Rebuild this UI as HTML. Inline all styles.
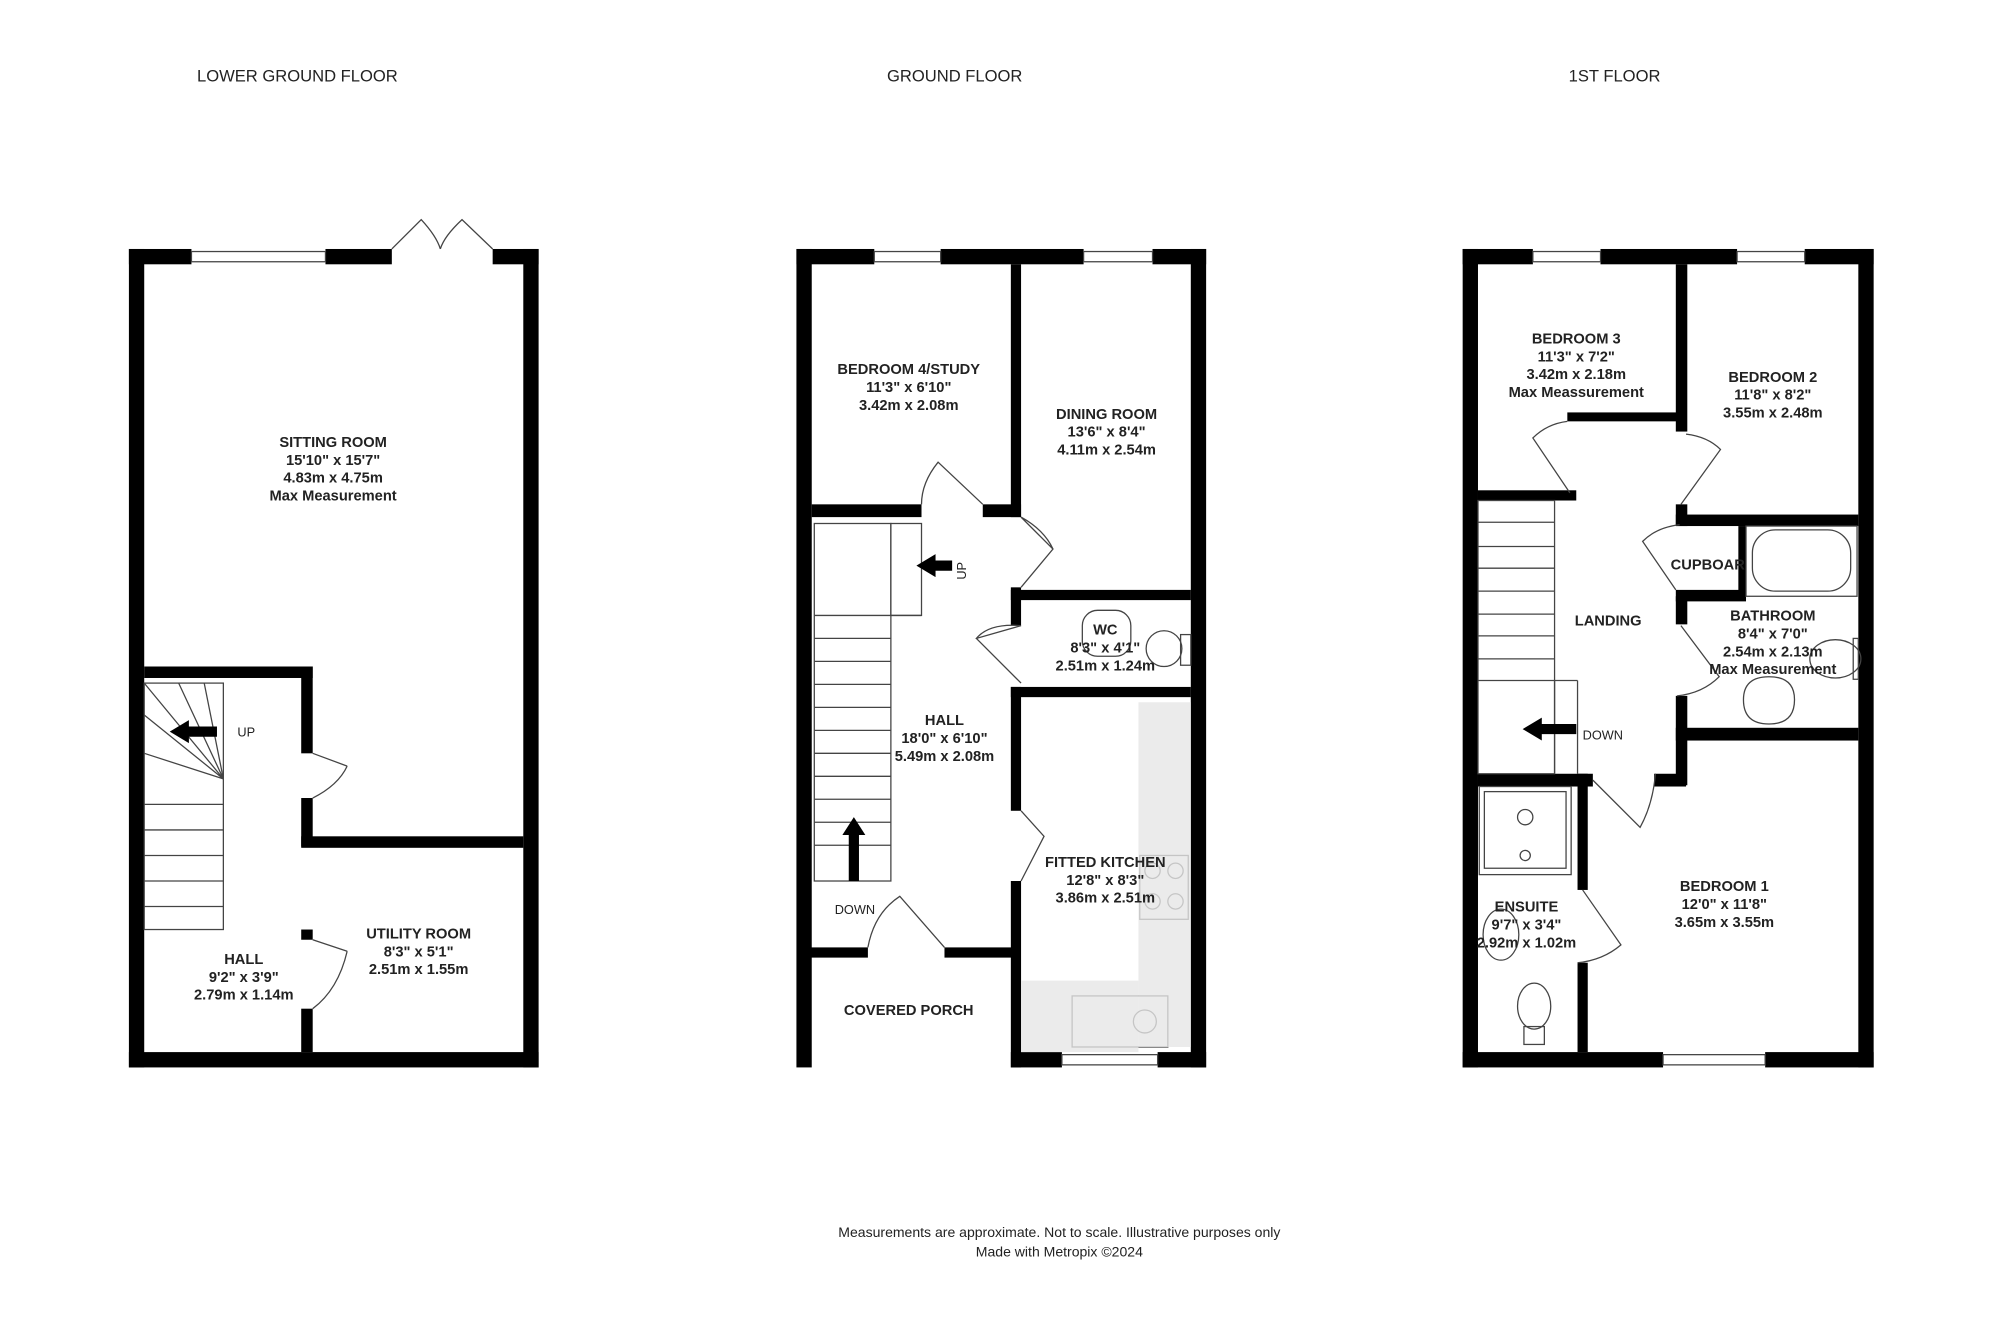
<!DOCTYPE html>
<html><head><meta charset="utf-8"><style>
html,body{margin:0;padding:0;background:#fff;width:2000px;height:1333px;overflow:hidden}
svg{display:block}
text{font-family:"Liberation Sans",Arial,sans-serif;fill:#222}
.l{font-size:11.5px;font-weight:bold;text-anchor:middle}
.h{font-size:13px;text-anchor:middle}
</style></head><body>
<svg width="2000" height="1333" viewBox="0 0 1567 1044" preserveAspectRatio="none">
<g fill="#000">
<rect x="101" y="195" width="49" height="12"/><rect x="255" y="195" width="52" height="12"/><rect x="386" y="195" width="36" height="12"/>
<rect x="101" y="195" width="12" height="641"/><rect x="410" y="195" width="12" height="641"/>
<rect x="101" y="824" width="321" height="12"/>
<rect x="113" y="522" width="132" height="9"/>
<rect x="236" y="522" width="9" height="68"/><rect x="236" y="625" width="9" height="38"/>
<rect x="236" y="655" width="174" height="9"/>
<rect x="236" y="728" width="9" height="8"/><rect x="236" y="790" width="9" height="34"/>
<rect x="624" y="195" width="61" height="12"/><rect x="737" y="195" width="112" height="12"/><rect x="903" y="195" width="42" height="12"/>
<rect x="624" y="195" width="12" height="641"/><rect x="933" y="195" width="12" height="641"/>
<rect x="792" y="824" width="40" height="12"/><rect x="907" y="824" width="38" height="12"/>
<rect x="792" y="207" width="8" height="198"/><rect x="792" y="460" width="8" height="30"/>
<rect x="792" y="462" width="141" height="8"/><rect x="792" y="538" width="141" height="8"/>
<rect x="792" y="538" width="8" height="97"/><rect x="792" y="690" width="8" height="146"/>
<rect x="636" y="395" width="86" height="10"/><rect x="770" y="395" width="30" height="10"/>
<rect x="632" y="742" width="48" height="8"/><rect x="740" y="742" width="55" height="8"/>
<!-- 1ST -->
<rect x="1146" y="195" width="55" height="12"/><rect x="1254" y="195" width="107" height="12"/><rect x="1414" y="195" width="54" height="12"/>
<rect x="1146" y="195" width="12" height="641"/><rect x="1456" y="195" width="12" height="641"/>
<rect x="1146" y="824" width="157" height="12"/><rect x="1383" y="824" width="85" height="12"/>
<rect x="1313" y="207" width="9" height="131"/>
<rect x="1158" y="384" width="77" height="8"/>
<rect x="1228" y="323" width="90" height="7"/>
<rect x="1313" y="395" width="9" height="17"/><rect x="1313" y="403" width="143" height="9"/>
<rect x="1362" y="412" width="6" height="55"/><rect x="1313" y="462" width="55" height="9"/>
<rect x="1313" y="467" width="9" height="22"/>
<rect x="1313" y="545" width="9" height="70"/>
<rect x="1313" y="570" width="143" height="10"/>
<rect x="1296" y="606" width="25" height="10"/>
<rect x="1158" y="606" width="90" height="10"/>
<rect x="1236" y="606" width="8" height="91"/><rect x="1236" y="754" width="8" height="70"/>
</g>
<g fill="none" stroke="#444" stroke-width="1">
<rect x="150" y="197" width="105" height="8"/><rect x="685" y="197" width="52" height="8"/><rect x="849" y="197" width="54" height="8"/>
<rect x="1201" y="197" width="53" height="8"/><rect x="1361" y="197" width="53" height="8"/>
<rect x="832" y="826" width="75" height="8"/><rect x="1303" y="826" width="80" height="8"/>
<path d="M307 195 L330 172 Q342 185 345 195 M386 195 L362 172 Q348 185 345 195"/>
<rect x="113" y="535" width="62" height="193"/>
<path d="M113 630 H175 M113 650 H175 M113 670 H175 M113 690 H175 M113 710 H175 M113 535 L175 610 M140 535 L175 610 M160 535 L175 610 M113 560 L175 610 M113 590 L175 610"/>
<rect x="638" y="410" width="60" height="280"/><rect x="698" y="410" width="24" height="72"/><path d="M638 482 H722"/>
<path d="M638 500 H698 M638 518 H698 M638 536 H698 M638 554 H698 M638 572 H698 M638 590 H698 M638 608 H698 M638 626 H698 M638 644 H698 M638 662 H698"/>
<rect x="1158" y="392" width="60" height="214"/>
<path d="M1158 409 H1218 M1158 428 H1218 M1158 445 H1218 M1158 463 H1218 M1158 481 H1218 M1158 498 H1218 M1158 516 H1218 M1158 533 H1236 M1218 533 V606 M1236 533 V606"/>
<path d="M245 590 L272 600 M272 600 Q265 615 245 625"/>
<path d="M245 736 L272 745 M272 745 Q265 775 245 790"/>
<path d="M770 395 L735 362 Q722 378 722 395"/>
<path d="M800 405 L825 430 L800 460 M800 405 Q818 415 825 430"/>
<path d="M800 490 L765 500 L800 535 M765 500 Q775 488 800 490"/>
<path d="M800 635 L818 655 L800 690"/>
<path d="M740 742 L705 702 Q685 715 680 742"/>
<path d="M1230 386 L1201 343 Q1212 332 1228 330"/>
<path d="M1317 395 L1348 352 Q1338 342 1321 340"/>
<path d="M1313 462 L1287 424 Q1298 413 1316 411"/>
<path d="M1317 490 L1347 530 Q1334 543 1314 545"/>
<path d="M1248 611 L1285 648 Q1295 630 1297 606"/>
<path d="M1240 697 L1270 740 Q1256 752 1236 754"/>
<rect x="1368" y="412" width="87" height="55"/><rect x="1373" y="415" width="77" height="48" rx="18"/>
<ellipse cx="1438" cy="516" rx="20" ry="15"/><rect x="1452" y="500" width="4" height="32"/>
<path d="M1366 548 Q1366 530 1386 530 Q1406 530 1406 548 Q1406 567 1386 567 Q1366 567 1366 548 Z"/>
<rect x="1159" y="616" width="72" height="69"/><rect x="1163" y="620" width="64" height="60"/>
<circle cx="1195" cy="640" r="6"/><circle cx="1195" cy="670" r="4"/>
<ellipse cx="1176" cy="732" rx="14" ry="20"/>
<ellipse cx="1202" cy="788" rx="13" ry="18"/><rect x="1194" y="804" width="16" height="14"/>
<ellipse cx="912" cy="508" rx="14" ry="14"/><rect x="925" y="497" width="8" height="24"/>
<rect x="848" y="478" width="38" height="36" rx="12"/>
<rect x="840" y="780" width="75" height="40"/><circle cx="897" cy="800" r="9"/>
<rect x="893" y="670" width="38" height="50"/><circle cx="903" cy="682" r="6"/><circle cx="921" cy="682" r="6"/><circle cx="903" cy="706" r="6"/><circle cx="921" cy="706" r="6"/>
</g>
<rect x="892" y="550" width="41" height="270" fill="#e6e6e6" opacity="0.8"/>
<rect x="800" y="768" width="92" height="56" fill="#e6e6e6" opacity="0.8"/>
<g fill="#000">
<path d="M133 573 L148 564 V569 H170 V577 H148 V582 Z"/>
<path d="M718 443 L733 434 V439 H746 V447 H733 V452 Z"/>
<path d="M669 640 L678 654 H673 V690 H665 V654 H660 Z"/>
<path d="M1193 571 L1208 562 V567 H1235 V575 H1208 V580 Z"/>
</g>
<text class="h" x="233" y="64">LOWER GROUND FLOOR</text>
<text class="h" x="748" y="64">GROUND FLOOR</text>
<text class="h" x="1265" y="64">1ST FLOOR</text>
<text class="l" x="261" y="350">SITTING ROOM</text><text class="l" x="261" y="364">15'10" x 15'7"</text><text class="l" x="261" y="378">4.83m x 4.75m</text><text class="l" x="261" y="392">Max Measurement</text>
<text class="l" x="191" y="755">HALL</text><text class="l" x="191" y="769">9'2" x 3'9"</text><text class="l" x="191" y="783">2.79m x 1.14m</text>
<text class="l" x="328" y="735">UTILITY ROOM</text><text class="l" x="328" y="749">8'3" x 5'1"</text><text class="l" x="328" y="763">2.51m x 1.55m</text>
<text class="l" x="712" y="293">BEDROOM 4/STUDY</text><text class="l" x="712" y="307">11'3" x 6'10"</text><text class="l" x="712" y="321">3.42m x 2.08m</text>
<text class="l" x="867" y="328">DINING ROOM</text><text class="l" x="867" y="342">13'6" x 8'4"</text><text class="l" x="867" y="356">4.11m x 2.54m</text>
<text class="l" x="866" y="497">WC</text><text class="l" x="866" y="511">8'3" x 4'1"</text><text class="l" x="866" y="525">2.51m x 1.24m</text>
<text class="l" x="740" y="568">HALL</text><text class="l" x="740" y="582">18'0" x 6'10"</text><text class="l" x="740" y="596">5.49m x 2.08m</text>
<text class="l" x="866" y="679">FITTED KITCHEN</text><text class="l" x="866" y="693">12'8" x 8'3"</text><text class="l" x="866" y="707">3.86m x 2.51m</text>
<text class="l" x="712" y="795">COVERED PORCH</text>
<text class="l" x="1235" y="269">BEDROOM 3</text><text class="l" x="1235" y="283">11'3" x 7'2"</text><text class="l" x="1235" y="297">3.42m x 2.18m</text><text class="l" x="1235" y="311">Max Meassurement</text>
<text class="l" x="1389" y="299">BEDROOM 2</text><text class="l" x="1389" y="313">11'8" x 8'2"</text><text class="l" x="1389" y="327">3.55m x 2.48m</text>
<text class="l" x="1260" y="490">LANDING</text>
<text class="l" x="1338" y="446">CUPBOAR</text>
<text class="l" x="1389" y="486">BATHROOM</text><text class="l" x="1389" y="500">8'4" x 7'0"</text><text class="l" x="1389" y="514">2.54m x 2.13m</text><text class="l" x="1389" y="528">Max Measurement</text>
<text class="l" x="1351" y="698">BEDROOM 1</text><text class="l" x="1351" y="712">12'0" x 11'8"</text><text class="l" x="1351" y="726">3.65m x 3.55m</text>
<text class="l" x="1196" y="714">ENSUITE</text><text class="l" x="1196" y="728">9'7" x 3'4"</text><text class="l" x="1196" y="742">2.92m x 1.02m</text>
<text x="186" y="577" style="font-size:10px">UP</text>
<text x="1240" y="579" style="font-size:10px">DOWN</text>
<text x="654" y="716" style="font-size:10px">DOWN</text>
<text x="0" y="0" style="font-size:10px" transform="translate(757,454) rotate(-90)">UP</text>
<text class="h" x="830" y="969" style="font-size:11px">Measurements are approximate.  Not to scale.  Illustrative purposes only</text>
<text class="h" x="830" y="984" style="font-size:11px">Made with Metropix ©2024</text>
</svg>
</body></html>
